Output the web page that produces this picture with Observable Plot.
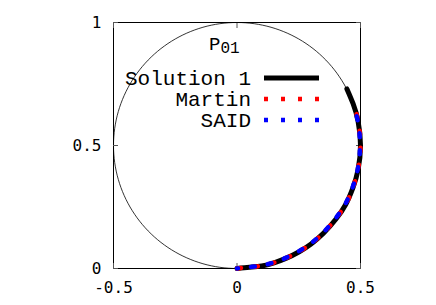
<!DOCTYPE html>
<html>
<head>
<meta charset="utf-8">
<script src="https://cdn.jsdelivr.net/npm/d3@7"></script>
<script src="https://cdn.jsdelivr.net/npm/@observablehq/plot@0.6"></script>
<style>
  body { margin: 0; background: #fff; }
  #wrap { position: relative; width: 436px; height: 305px; }
  #wrap svg { position: absolute; left: 0; top: 0; }
</style>
</head>
<body>
<div id="wrap"></div>
<script>
// Axis ticks
const xTicks = [-0.5, 0, 0.5];
const yTicks = [0, 0.5, 1];

// Series (Argand diagram: Re T, Im T)
const solution1Re = [0, 0.05, 0.10, 0.15, 0.20, 0.25, 0.30, 0.35, 0.40, 0.44, 0.47, 0.49, 0.50, 0.49, 0.47, 0.445];
const solution1Im = [0, 0.005, 0.010, 0.023, 0.042, 0.067, 0.100, 0.143, 0.200, 0.260, 0.330, 0.400, 0.500, 0.600, 0.670, 0.730];

const martinRe = [0, 0.05, 0.10, 0.15, 0.20, 0.25, 0.30, 0.35, 0.40, 0.445, 0.475, 0.493, 0.500, 0.492, 0.475];
const martinIm = [0, 0.005, 0.011, 0.024, 0.043, 0.068, 0.101, 0.145, 0.202, 0.270, 0.345, 0.420, 0.500, 0.590, 0.660];

const saidRe = [0, 0.05, 0.10, 0.15, 0.20, 0.25, 0.30, 0.35, 0.40, 0.44, 0.47, 0.49, 0.498, 0.49, 0.47];
const saidIm = [0, 0.006, 0.012, 0.025, 0.044, 0.070, 0.103, 0.147, 0.205, 0.265, 0.335, 0.410, 0.500, 0.595, 0.665];

const seriesNames = ["Solution 1", "Martin", "SAID"];
const seriesColors = ["black", "red", "blue"];
const titleMain = "P";
const titleSub = "01";

const toRows = (re, im) => re.map((v, i) => ({x: v, y: im[i]}));
const sol1 = toRows(solution1Re, solution1Im);
const martin = toRows(martinRe, martinIm);
const said = toRows(saidRe, saidIm);

// Unitarity circle (geometric guide): |T - i/2| = 1/2
const circle = d3.range(0, 361, 2).map(a => ({
  x: 0.5 * Math.cos(a * Math.PI / 180),
  y: 0.5 + 0.5 * Math.sin(a * Math.PI / 180)
}));

const tickFont = "DejaVu Sans Mono";
const fmt = d => String(d);

const chart = Plot.plot({
  width: 436,
  height: 305,
  marginLeft: 113,
  marginRight: 76,
  marginTop: 22,
  marginBottom: 37,
  style: {fontFamily: tickFont, fontSize: "16px", background: "white", color: "black"},
  x: {domain: [-0.5, 0.5], ticks: xTicks, label: null},
  y: {domain: [0, 1], ticks: yTicks, label: null},
  marks: [
    Plot.line(circle, {x: "x", y: "y", stroke: "black", strokeWidth: 0.8, curve: "linear"}),
    Plot.frame({stroke: "black", strokeWidth: 1}),
    Plot.axisX(xTicks, {anchor: "bottom", tickSize: 0, tickPadding: 13, tickFormat: fmt, fontSize: 16, fontFamily: tickFont, label: null}),
    Plot.axisY(yTicks, {anchor: "left", tickSize: 0, tickPadding: 12, tickFormat: fmt, fontSize: 16, fontFamily: tickFont, label: null}),
    Plot.axisX(xTicks, {anchor: "bottom", tickSize: -5, tickFormat: () => "", label: null, stroke: "#555"}),
    Plot.axisX(xTicks, {anchor: "top", tickSize: -5, tickFormat: () => "", label: null, stroke: "#555"}),
    Plot.axisY(yTicks, {anchor: "left", tickSize: -5, tickFormat: () => "", label: null, stroke: "#555"}),
    Plot.axisY(yTicks, {anchor: "right", tickSize: -5, tickFormat: () => "", label: null, stroke: "#555"}),
    Plot.line(sol1, {x: "x", y: "y", stroke: seriesColors[0], strokeWidth: 5, curve: "natural"}),
    Plot.line(martin, {x: "x", y: "y", stroke: seriesColors[1], strokeWidth: 4.5, strokeDasharray: "4,13", curve: "natural"}),
    Plot.line(said, {x: "x", y: "y", stroke: seriesColors[2], strokeWidth: 4.5, strokeDasharray: "4,13", strokeDashoffset: 3, curve: "natural"})
  ]
});

const wrap = document.getElementById("wrap");
wrap.appendChild(chart);

// Title + legend overlay
const ov = d3.select(wrap).append("svg")
  .attr("width", 436).attr("height", 305)
  .style("pointer-events", "none");

const title = ov.append("text")
  .attr("x", 209).attr("y", 50)
  .attr("font-family", "Liberation Mono")
  .attr("font-size", 19)
  .attr("fill", "black");
title.append("tspan").text(titleMain);
title.append("tspan").attr("dy", 3).attr("font-size", 16).text(titleSub);

const legY = [78, 99, 120];
seriesNames.forEach((name, i) => {
  ov.append("text")
    .attr("x", 251).attr("y", legY[i])
    .attr("dy", "0.35em")
    .attr("text-anchor", "end")
    .attr("font-family", "Liberation Mono")
    .attr("font-size", 21)
    .attr("fill", "black")
    .text(name);
  const ln = ov.append("line")
    .attr("x1", 264).attr("x2", 319)
    .attr("y1", legY[i]).attr("y2", legY[i])
    .attr("stroke", seriesColors[i]);
  if (i === 0) ln.attr("stroke-width", 5);
  else ln.attr("stroke-width", 4.5).attr("stroke-dasharray", "4,13");
});
</script>
</body>
</html>
